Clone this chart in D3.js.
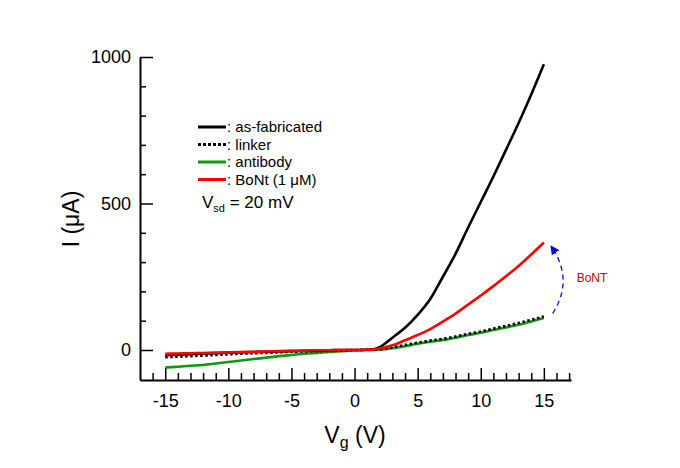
<!DOCTYPE html>
<html><head><meta charset="utf-8">
<script src="https://cdn.jsdelivr.net/npm/d3@7"></script>
<style>body{margin:0;background:#fff}svg{display:block}text{font-family:"Liberation Sans",Arial,sans-serif}</style>
</head><body><svg id="c" width="680" height="468"></svg>
<script>
const vg = [-15,-14,-13,-12,-11,-10,-9,-8,-7,-6,-5,-4,-3,-2,-1,0,1,1.5,2,3,4,5,6,7,8,9,10,11,12,13,14,15];
const asFabricated = [-18,-16,-14,-12,-11,-9,-8,-7,-6,-5,-4,-3,-2,-1,0,0,1,2,10,42,76,120,174,250,328,418,505,592,683,775,872,975];
const linker =       [-25,-23,-21,-19,-17,-15,-13,-11,-10,-8,-6,-5,-4,-3,-1,0,1,2,3,9,17,25,32,38,46,55,63,73,82,92,103,114];
const antibody =     [-60,-57,-54,-51,-46,-41,-36,-31,-26,-21,-17,-13,-10,-7,-4,-1,0,0,1,6,13,21,28,34,42,51,59,68,77,86,97,109];
const bont =         [-13,-12,-11,-10,-9,-8,-7,-6,-5,-4,-3,-2,-1,-1,0,0,1,2,5,16,33,51,71,97,124,155,186,218,252,287,326,367];
const xTicks = [-15,-10,-5,0,5,10,15];
const yTicks = [0,500,1000];
const seriesNames = [": as-fabricated", ": linker", ": antibody", ": BoNt (1 \u03bcM)"];
const arrowPts = [[15.7,125],[17.4,240],[15.6,352]];

const svg = d3.select("#c");
const x = d3.scaleLinear().domain([-17,17.15]).range([140,571]);
const y = d3.scaleLinear().domain([-102.4,1000]).range([380,57]);
const fmt = d => String(d);

// axes
const xMinor = d3.range(-16,18,1).filter(v=>v%5!==0);
svg.append("g").attr("transform","translate(0,380)")
  .call(d3.axisBottom(x).tickValues(xMinor).tickSize(-7).tickFormat("").tickSizeOuter(0))
  .call(g=>g.select(".domain").remove())
  .call(g=>g.selectAll("line").attr("stroke","#000").attr("stroke-width",1.5));
svg.append("g").attr("transform","translate(0,380)")
  .call(d3.axisBottom(x).tickValues(xTicks).tickSize(-12).tickPadding(14).tickSizeOuter(0).tickFormat(fmt))
  .call(g=>g.select(".domain").attr("stroke-width",2))
  .call(g=>g.selectAll("line").attr("stroke-width",1.5))
  .call(g=>g.selectAll("text").attr("font-size",18).attr("fill","#000"));
const yMinor = d3.range(100,1000,100).filter(v=>v!==500);
svg.append("g").attr("transform","translate(140,0)")
  .call(d3.axisLeft(y).tickValues(yMinor).tickSize(-6).tickFormat("").tickSizeOuter(0))
  .call(g=>g.select(".domain").remove())
  .call(g=>g.selectAll("line").attr("stroke-width",1.5));
svg.append("g").attr("transform","translate(140,0)")
  .call(d3.axisLeft(y).tickValues(yTicks).tickSize(-13).tickPadding(9).tickSizeOuter(0).tickFormat(fmt))
  .call(g=>g.select(".domain").attr("stroke-width",2))
  .call(g=>g.selectAll("line").attr("stroke-width",1.5))
  .call(g=>g.selectAll("text").attr("font-size",18).attr("fill","#000"));

// axis titles
const xt = svg.append("text").attr("x",355).attr("y",443).attr("text-anchor","middle").attr("font-size",23);
xt.append("tspan").text("V");
xt.append("tspan").attr("font-size",16).attr("dy",5).text("g");
xt.append("tspan").attr("dy",-5).text(" (V)");
svg.append("text").attr("transform","translate(79,219) rotate(-90)").attr("text-anchor","middle").attr("font-size",23).text("I (\u03bcA)");

// curves
const line = d3.line().x((d,i)=>x(vg[i])).y(d=>y(d)).curve(d3.curveMonotoneX);
const styles = [
  {data:antibody,color:"#0a9a0a",dash:null},
  {data:linker,color:"#000",dash:"2.5,2.5"},
  {data:asFabricated,color:"#000",dash:null},
  {data:bont,color:"#ff0000",dash:null}
];
styles.forEach(s=>{
  svg.append("path").attr("d",line(s.data)).attr("fill","none").attr("stroke",s.color)
    .attr("stroke-width",2.6).attr("stroke-dasharray",s.dash);
});

// legend
const legend = [
  {name:seriesNames[0],color:"#000",dash:null},
  {name:seriesNames[1],color:"#000",dash:"3,2"},
  {name:seriesNames[2],color:"#0a9a0a",dash:null},
  {name:seriesNames[3],color:"#ff0000",dash:null}
];
legend.forEach((l,i)=>{
  const yy = 127 + i*17.5;
  svg.append("line").attr("x1",198).attr("x2",226).attr("y1",yy).attr("y2",yy)
    .attr("stroke",l.color).attr("stroke-width",3).attr("stroke-dasharray",l.dash);
  svg.append("text").attr("x",227).attr("y",yy+5).attr("font-size",15).text(l.name);
});
const vs = svg.append("text").attr("x",202).attr("y",208).attr("font-size",17);
vs.append("tspan").text("V");
vs.append("tspan").attr("font-size",11).attr("dy",4).text("sd");
vs.append("tspan").attr("dy",-4).text(" = 20 mV");

// arrow annotation
svg.append("defs").append("marker").attr("id","ah").attr("viewBox","0 0 10 10")
  .attr("refX",8).attr("refY",5).attr("markerWidth",7).attr("markerHeight",7).attr("orient","auto")
  .append("path").attr("d","M0,0L10,5L0,10z").attr("fill","#0000ff");
const ap = arrowPts.map(p=>[x(p[0]),y(p[1])]);
svg.append("path").attr("d",`M${ap[0][0]},${ap[0][1]}Q${ap[1][0]},${ap[1][1]} ${ap[2][0]},${ap[2][1]}`)
  .attr("fill","none").attr("stroke","#0000ff").attr("stroke-width",1.3).attr("stroke-dasharray","5,4")
  .attr("marker-end","url(#ah)");
svg.append("text").attr("x",x(17.6)).attr("y",y(232)).attr("font-size",12).attr("fill","#cc0000").text("BoNT");
</script></body></html>
